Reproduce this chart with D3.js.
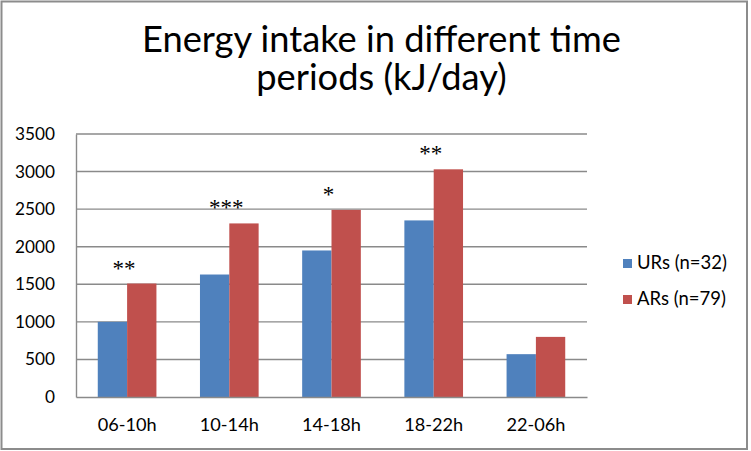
<!DOCTYPE html>
<html>
<head>
<meta charset="utf-8">
<script src="https://cdn.jsdelivr.net/npm/d3@7"></script>
<style>
  html, body { margin: 0; padding: 0; background: #fff; }
  svg { display: block; }
  text { font-family: Lato, "Open Sans", sans-serif; fill: #000; }
</style>
</head>
<body>
<svg id="chart" width="751" height="451"></svg>
<script>
const categories = ["06-10h", "10-14h", "14-18h", "18-22h", "22-06h"];
const seriesNames = ["URs (n=32)", "ARs (n=79)"];
const urs = [1000, 1630, 1950, 2350, 570];
const ars = [1510, 2310, 2490, 3030, 800];
const significance = ["**", "***", "*", "**", ""];
const yTicks = [0, 500, 1000, 1500, 2000, 2500, 3000, 3500];
const titleLines = ["Energy intake in different time", "periods (kJ/day)"];
const colors = ["#4F81BD", "#C0504D"];

const svg = d3.select("#chart");
const margin = { left: 76, top: 134 };
const plotRight = 587, plotBottom = 397;

// scale a text selection's font so that its first element reaches a target width
function fitFont(sel, base, target) {
  sel.style("font-size", base + "px");
  const w = sel.node().getComputedTextLength();
  const size = base * target / w;
  sel.style("font-size", size + "px");
  return size;
}

// outer frame
svg.append("rect")
  .attr("x", 1.5).attr("y", 1.5).attr("width", 745.5).attr("height", 447.5)
  .attr("fill", "#fff").attr("stroke", "#8c8c8c").attr("stroke-width", 2);

// title
const title = svg.append("g").selectAll("text").data(titleLines).join("text")
  .attr("x", 381.5).attr("y", (d, i) => 52 + i * 38)
  .attr("text-anchor", "middle")
  .text(d => d);
fitFont(title, 31, 479);

const x0 = d3.scaleBand().domain(categories).range([margin.left, plotRight]).paddingInner(0.426).paddingOuter(0.213);
const x1 = d3.scaleBand().domain([0, 1]).range([0, x0.bandwidth()]);
const y = d3.scaleLinear().domain([0, 3500]).range([plotBottom, margin.top]);
const xc = d3.scaleBand().domain(categories).range([margin.left, plotRight]);

// gridlines
svg.append("g").selectAll("line").data(yTicks.filter(d => d > 0)).join("line")
  .attr("x1", margin.left).attr("x2", plotRight)
  .attr("y1", d => y(d)).attr("y2", d => y(d))
  .attr("stroke", "#8a8a8a").attr("stroke-width", 1.4);

// y axis
const yAxis = svg.append("g").attr("transform", `translate(${margin.left},0)`)
  .call(d3.axisLeft(y).tickValues(yTicks).tickSize(0).tickPadding(21).tickFormat(d3.format("d")));
yAxis.select(".domain").attr("stroke", "#8a8a8a").attr("stroke-width", 1.4);
const yLabels = yAxis.selectAll("text").style("font-family", "Lato, sans-serif").attr("fill", "#000");
const yl = yLabels.filter(d => d === 3500);
const ySize = fitFont(yl, 17, 40);
yLabels.style("font-size", ySize + "px");

// bars
const groups = svg.append("g").selectAll("g").data(categories).join("g")
  .attr("transform", d => `translate(${x0(d)},0)`);
groups.selectAll("rect").data((d, i) => [urs[i], ars[i]]).join("rect")
  .attr("x", (d, j) => x1(j)).attr("width", x1.bandwidth())
  .attr("y", d => y(d)).attr("height", d => plotBottom - y(d))
  .attr("fill", (d, j) => colors[j]);

// x axis
const xAxis = svg.append("g").attr("transform", `translate(0,${plotBottom})`)
  .call(d3.axisBottom(xc).tickSize(0).tickPadding(21));
xAxis.select(".domain").attr("stroke", "#8a8a8a").attr("stroke-width", 1.4);
const xLabels = xAxis.selectAll("text").style("font-family", "Lato, sans-serif").attr("fill", "#000");
const xSize = fitFont(xLabels.filter((d, i) => i === 0), 17, 59);
xLabels.style("font-size", xSize + "px");

// significance markers
svg.append("g").selectAll("text").data(categories).join("text")
  .attr("x", d => xc(d) + xc.bandwidth() / 2 - 3)
  .attr("y", (d, i) => y(ars[i]) - 8)
  .attr("text-anchor", "middle")
  .style("font-family", "'Liberation Serif', 'DejaVu Serif', serif")
  .style("font-size", "23px")
  .text((d, i) => significance[i]);

// legend
const legend = svg.append("g").selectAll("g").data(seriesNames).join("g")
  .attr("transform", (d, i) => `translate(623,${259 + i * 36})`);
legend.append("rect").attr("width", 9).attr("height", 9).attr("fill", (d, i) => colors[i]);
const legText = legend.append("text").attr("x", 14).attr("y", 9.5).text(d => d);
const lSize = fitFont(legText.filter((d, i) => i === 0), 17, 90);
legText.style("font-size", lSize + "px");
</script>
</body>
</html>
